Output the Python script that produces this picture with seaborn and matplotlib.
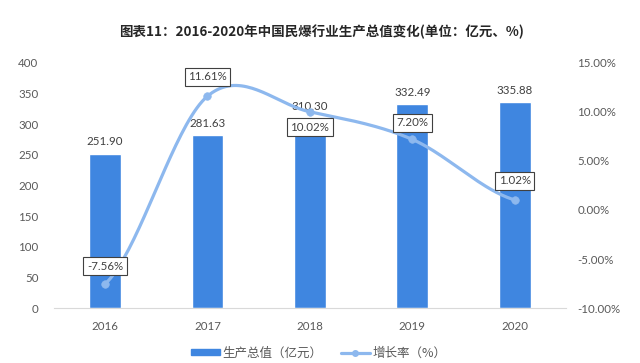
import matplotlib
matplotlib.use('Agg')

import numpy as np
import pandas as pd
import matplotlib.pyplot as plt
import seaborn as sns
from matplotlib.patches import Patch
from matplotlib.lines import Line2D

years = ['2016', '2017', '2018', '2019', '2020']
output_value = [251.90, 281.63, 310.30, 332.49, 335.88]
growth_rate = [-7.56, 11.61, 10.02, 7.20, 1.02]
# growth-rate box offsets (points): above (+) or below (-) the marker
growth_label_dy = [13, 14, -11, 12, 14]

bar_color = '#3F86E0'
line_color = '#8DB8EE'
tick_color = '#595959'
text_color = '#404040'

sns.set_style('white')
plt.rcParams['font.family'] = ['Lato', 'Noto Sans CJK SC', 'DejaVu Sans']

df = pd.DataFrame({'year': years, 'value': output_value, 'rate': growth_rate})

fig = plt.figure(figsize=(6.4, 3.63), dpi=100)
ax = fig.add_axes([0.084, 0.1515, 0.8004, 0.675])

sns.barplot(data=df, x='year', y='value', color=bar_color, width=0.31,
            saturation=1, ax=ax)
for i, v in enumerate(output_value):
    ax.annotate(f'{v:.2f}', (i, v), xytext=(0, 8.5), textcoords='offset points',
                ha='center', va='center', fontsize=8.3, color=text_color)

ax.set_ylim(0, 400)
ax.set_yticks(np.arange(0, 401, 50))
ax.set_xlim(-0.5, 4.5)
ax.set_xlabel('')
ax.set_ylabel('')
ax.tick_params(axis='both', colors=tick_color, labelsize=8.3, length=0)
ax.tick_params(axis='x', pad=9)
ax.tick_params(axis='y', pad=11)
for s in ['top', 'left', 'right']:
    ax.spines[s].set_visible(False)
ax.spines['bottom'].set_color('#D9D9D9')

# smoothed growth line (Catmull-Rom, like Excel's smooth line)
ax2 = ax.twinx()
xs = np.arange(len(growth_rate), dtype=float)
ys = np.array(growth_rate)
px = np.concatenate([[xs[0]], xs, [xs[-1]]])
py = np.concatenate([[ys[0]], ys, [ys[-1]]])
cx, cy = [], []
t = np.linspace(0, 1, 40)
for k in range(1, len(px) - 2):
    p0, p1, p2, p3 = py[k - 1], py[k], py[k + 1], py[k + 2]
    m1 = (p2 - p0) / 2
    m2 = (p3 - p1) / 2
    h00 = 2 * t**3 - 3 * t**2 + 1
    h10 = t**3 - 2 * t**2 + t
    h01 = -2 * t**3 + 3 * t**2
    h11 = t**3 - t**2
    cy.extend(h00 * p1 + h10 * m1 + h01 * p2 + h11 * m2)
    cx.extend(px[k] + t * (px[k + 1] - px[k]))
ax2.plot(cx, cy, color=line_color, lw=2.3, solid_capstyle='round')
sns.scatterplot(x=xs, y=ys, color=line_color, s=30, edgecolor=line_color,
                ax=ax2, zorder=3)

for i, r in enumerate(growth_rate):
    ax2.annotate(f'{r:.2f}%', (i, r), xytext=(0, growth_label_dy[i]),
                 textcoords='offset points', ha='center', va='center',
                 fontsize=8.3, color=text_color,
                 bbox=dict(boxstyle='square,pad=0.3', fc='white', ec='#404040', lw=0.8))

ax2.set_ylim(-10, 15)
ax2.set_yticks(np.arange(-10, 15.1, 5))
ax2.set_yticklabels([f'{v:.2f}%' for v in np.arange(-10, 15.1, 5)])
ax2.tick_params(axis='y', colors=tick_color, labelsize=8.3, length=0, pad=8)
for s in ['top', 'left', 'right', 'bottom']:
    ax2.spines[s].set_visible(False)
ax2.set_ylabel('')

fig.text(0.502, 0.912, '图表11：2016-2020年中国民爆行业生产总值变化(单位：亿元、%)',
         ha='center', va='center', fontsize=9.7, fontweight='bold', color='#262626',
         family=['Noto Sans CJK SC', 'DejaVu Sans'])

# legend below chart
handles = [Patch(color=bar_color),
           Line2D([0], [0], color=line_color, lw=2.3, marker='o', markersize=4)]
leg = fig.legend(handles, ['生产总值（亿元）', '增长率（%）'], loc='center',
                 bbox_to_anchor=(0.498, 0.028), ncol=2, frameon=False, fontsize=9,
                 handlelength=2.3, handleheight=0.4, handletextpad=0.2,
                 columnspacing=1.5, labelcolor=tick_color)
for txt in leg.get_texts():
    txt.set_family(['Noto Sans CJK SC', 'DejaVu Sans'])

fig.savefig('out.png', dpi=100)
